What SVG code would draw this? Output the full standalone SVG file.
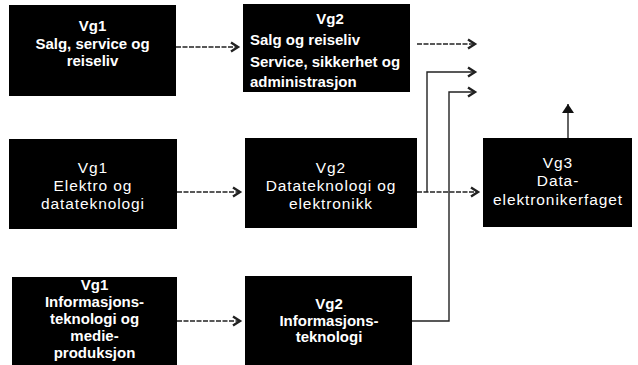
<svg xmlns="http://www.w3.org/2000/svg" width="638" height="365" viewBox="0 0 638 365">
  <style>
    .box { fill: #000; }
    .tb { fill: #fff; font-family: "Liberation Sans", Arial, sans-serif; font-weight: bold; font-size: 15px; }
    .tr { fill: #fff; font-family: "Liberation Sans", Arial, sans-serif; font-size: 15.5px; letter-spacing: 0.9px; }
    .c { text-anchor: middle; }
    .ln { fill: none; stroke: #222; stroke-width: 1.4; stroke-dasharray: 5 1.5; }
    .ls { fill: none; stroke: #222; stroke-width: 1.4; }
  </style>
  <defs>
    <marker id="ah" markerUnits="userSpaceOnUse" markerWidth="12" markerHeight="12" refX="9" refY="6" orient="auto">
      <path d="M2,1.5 L9,6 L2,10.5" fill="none" stroke="#222" stroke-width="2.4"/>
    </marker>
    <marker id="up" markerUnits="userSpaceOnUse" markerWidth="14" markerHeight="14" refX="10" refY="7" orient="auto">
      <path d="M1,1 L10,7 L1,13 Z" fill="#111"/>
    </marker>
  </defs>
  <rect width="638" height="365" fill="#fff"/>

  <g id="connectors">
    <line class="ln" x1="176" y1="47" x2="238" y2="47" marker-end="url(#ah)"/>
    <line class="ln" x1="177" y1="192" x2="240" y2="192" marker-end="url(#ah)"/>
    <line class="ln" x1="177" y1="321" x2="240" y2="321" marker-end="url(#ah)"/>
    <line class="ln" x1="417" y1="44" x2="475" y2="44" marker-end="url(#ah)"/>
    <line class="ln" x1="417" y1="192" x2="478" y2="192" marker-end="url(#ah)"/>
    <polyline class="ls" points="427,192 427,72 475,72" marker-end="url(#ah)"/>
    <polyline class="ls" points="412,321 449,321 449,92 475,92" marker-end="url(#ah)"/>
    <line class="ls" x1="568" y1="138" x2="568" y2="104" marker-end="url(#up)"/>
  </g>

  <g id="vg1-salg">
    <rect class="box" x="9" y="5" width="167" height="91"/>
    <text class="tb c" x="92.5" y="31">Vg1</text>
    <text class="tb c" x="92.5" y="49">Salg, service og</text>
    <text class="tb c" x="92.5" y="66">reiseliv</text>
  </g>

  <g id="vg2-salg">
    <rect class="box" x="243" y="4" width="167" height="88"/>
    <text class="tb c" x="330" y="24">Vg2</text>
    <text class="tb" x="250" y="45">Salg og reiseliv</text>
    <text class="tb" x="250" y="67">Service, sikkerhet og</text>
    <text class="tb" x="250" y="87">administrasjon</text>
  </g>

  <g id="vg1-elektro">
    <rect class="box" x="9" y="139" width="168" height="90"/>
    <text class="tr c" x="93" y="173">Vg1</text>
    <text class="tr c" x="93" y="191">Elektro og</text>
    <text class="tr c" x="93" y="209">datateknologi</text>
  </g>

  <g id="vg2-datatek">
    <rect class="box" x="245" y="138" width="172" height="90"/>
    <text class="tr c" x="331" y="173">Vg2</text>
    <text class="tr c" x="331" y="191">Datateknologi og</text>
    <text class="tr c" x="331" y="209">elektronikk</text>
  </g>

  <g id="vg3">
    <rect class="box" x="483" y="138" width="149" height="89"/>
    <text class="tr c" x="558" y="168">Vg3</text>
    <text class="tr c" x="558" y="186">Data-</text>
    <text class="tr c" x="558" y="205">elektronikerfaget</text>
  </g>

  <g id="vg1-info">
    <rect class="box" x="12" y="277" width="165" height="88"/>
    <text class="tb c" x="94.5" y="290">Vg1</text>
    <text class="tb c" x="94.5" y="307">Informasjons-</text>
    <text class="tb c" x="94.5" y="324">teknologi og</text>
    <text class="tb c" x="94.5" y="341">medie-</text>
    <text class="tb c" x="94.5" y="358">produksjon</text>
  </g>

  <g id="vg2-info">
    <rect class="box" x="245" y="276" width="167" height="89"/>
    <text class="tb c" x="329" y="309">Vg2</text>
    <text class="tb c" x="329" y="326">Informasjons-</text>
    <text class="tb c" x="329" y="342">teknologi</text>
  </g>
</svg>
